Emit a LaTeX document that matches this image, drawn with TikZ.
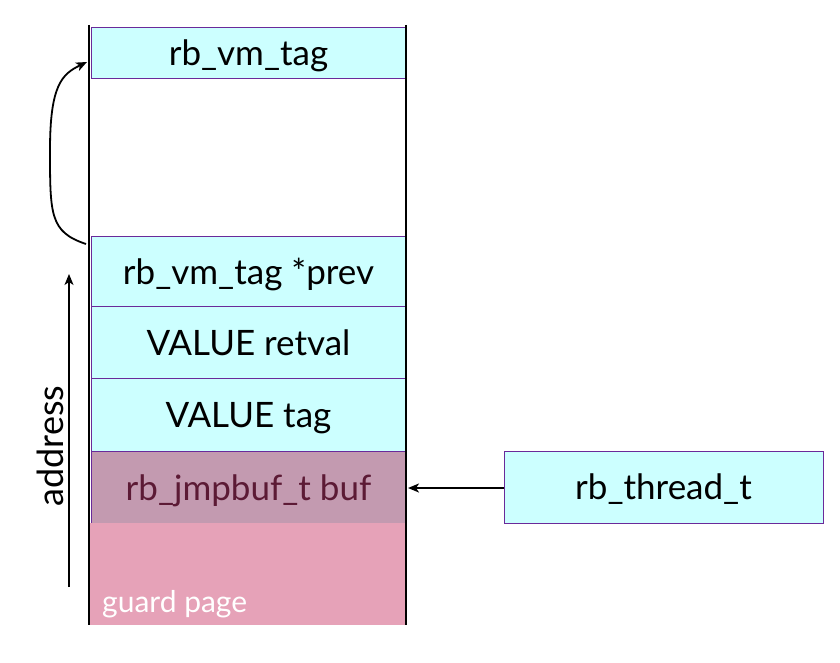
\documentclass[tikz,border=0pt]{standalone}
\usepackage{fontspec}
\setmainfont{Lato}
\usetikzlibrary{arrows.meta}
\begin{document}
\begin{tikzpicture}[x=1pt,y=-1pt,
  cell/.style={draw=cellborder,line width=1pt,fill=cellfill,anchor=north west,inner sep=0pt,text depth=0pt,text=black,font=\fontsize{35}{40}\selectfont},
  conn/.style={line width=1.8pt,-{Stealth[length=11pt,width=9pt,inset=3pt]}}]
\definecolor{cellfill}{HTML}{CCFFFF}
\definecolor{cellborder}{HTML}{6A2A9A}
\definecolor{buffill}{HTML}{C39AB0}
\definecolor{buftext}{HTML}{5C1A35}
\definecolor{guardfill}{HTML}{E6A2B8}
\useasboundingbox (0,0) rectangle (840,663);
% cells
\node[cell,minimum width=314pt,minimum height=51pt] (tag) at (91,27) {rb\_vm\_tag};
\node[cell,minimum width=314pt,minimum height=70pt] (prev) at (91,236) {rb\_vm\_tag *prev};
\node[cell,minimum width=314pt,minimum height=72pt] (retval) at (91,306) {VALUE retval};
\node[cell,minimum width=314pt,minimum height=73pt] (vtag) at (91,378) {VALUE tag};
\node[cell,fill=buffill,text=buftext,minimum width=314pt,minimum height=72pt] (buf) at (91,451) {rb\_jmpbuf\_t buf};
\node[draw=none,fill=guardfill,anchor=north west,inner sep=0pt,minimum width=316pt,minimum height=102pt] (guard) at (90,523) {};
\node[anchor=base west,text=white,font=\fontsize{30}{34}\selectfont,inner sep=0pt] (guardlbl) at (102,612) {guard page};
% outer walls
\draw[line width=2pt] (89,25) -- (89,625);
\draw[line width=2pt] (406,25) -- (406,625);
% thread
\node[cell,anchor=center,minimum width=319pt,minimum height=72pt] (thr) at (663.5,487) {rb\_thread\_t};
\coordinate (bufend) at (408,488);
\draw[conn] (thr.west |- bufend) -- (bufend);
% address arrow
\coordinate (a0) at (69,587);
\coordinate (a1) at (69,274);
\draw[conn] (a0) -- (a1);
\node[rotate=90,anchor=base,font=\fontsize{36}{40}\selectfont,inner sep=0pt] (addr) at (63,446) {address};
% curved arrow
\coordinate (c0) at (86,244);
\coordinate (c1) at (87,62);
\draw[conn] (c0) .. controls (50,232) and (50,215) .. (50,150)
  .. controls (50,85) and (62,74) .. (c1);
\end{tikzpicture}
\end{document}
